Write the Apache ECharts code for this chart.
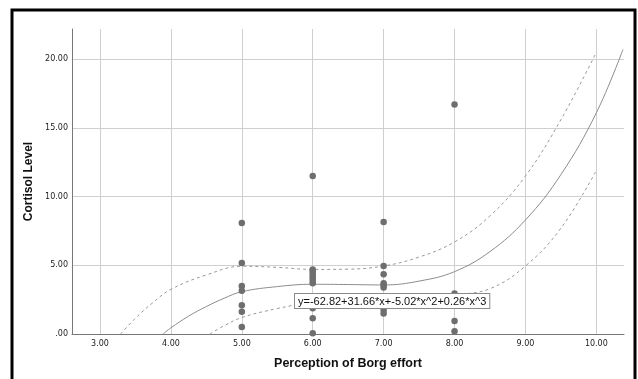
<!DOCTYPE html>
<html>
<head>
<meta charset="utf-8">
<script src="https://cdn.jsdelivr.net/npm/echarts@6/dist/echarts.min.js"></script>
<style>html,body{margin:0;padding:0;background:#fff}#c{width:638px;height:379px}</style>
</head>
<body>
<div id="c"></div>
<script>
// Scatter data: Borg effort vs cortisol
const borgX = [5,5,5,5,5,5,5, 6,6,6,6,6,6,6,6,6,6,6, 7,7,7,7,7,7,7,7, 8,8,8,8];
const cortisol = [8.08,5.17,3.50,3.15,2.09,1.62,0.51, 11.5,4.70,4.55,4.40,4.22,4.05,3.85,3.70,1.87,1.14,0.05, 8.16,4.95,4.35,3.70,3.55,3.38,1.75,1.50, 16.7,2.95,0.95,0.20];

// Fitted cubic curve
const fitX = [3.89, 4.0, 4.25, 4.5, 4.75, 5.0, 5.5, 6.0, 6.5, 7.0, 7.5, 8.0, 8.5, 9.0, 9.5, 10.0, 10.375];
const fitY = [0, 0.45, 1.3, 2.0, 2.6, 3.08, 3.45, 3.62, 3.6, 3.57, 3.85, 4.54, 6.0, 8.3, 11.6, 16.1, 20.7];

// Upper confidence band
const upX = [3.29, 3.5, 3.75, 4.0, 4.5, 5.0, 5.5, 6.0, 6.5, 7.0, 7.5, 8.0, 8.5, 9.0, 9.5, 10.0];
const upY = [0, 1.15, 2.3, 3.25, 4.3, 4.93, 4.85, 4.7, 4.72, 4.95, 5.6, 6.7, 8.6, 11.5, 15.6, 20.5];

// Lower confidence band
const loX = [4.55, 4.75, 5.0, 5.5, 6.0, 6.5, 7.0, 7.5, 8.0, 8.5, 9.0, 9.5, 10.0];
const loY = [0, 0.6, 1.2, 1.85, 2.3, 2.45, 2.5, 2.6, 2.85, 3.3, 4.95, 7.7, 11.9];

// Axis ticks
const xTicks = [3, 4, 5, 6, 7, 8, 9, 10];
const yTicks = [0, 5, 10, 15, 20];
const eqText = 'y=-62.82+31.66*x+-5.02*x^2+0.26*x^3';

const pair = (xs, ys) => xs.map((x, i) => [x, ys[i]]);
const fmt = v => v === 0 ? '.00' : v.toFixed(2);

const chart = echarts.init(document.getElementById('c'));
chart.setOption({
  animation: false,
  backgroundColor: '#fff',
  grid: { left: 72, top: 29, right: 14, bottom: 45 },
  xAxis: {
    type: 'value', min: 2.605, max: 10.39,
    name: 'Perception of Borg effort', nameLocation: 'middle', nameGap: 23,
    nameTextStyle: { fontFamily: 'Liberation Sans', fontWeight: 'bold', fontSize: 12.5, color: '#111' },
    axisLine: { show: true, lineStyle: { color: '#777', width: 1 } },
    axisTick: { show: false, customValues: xTicks },
    axisLabel: { customValues: xTicks, formatter: fmt, margin: 6, fontFamily: 'DejaVu Sans', fontSize: 8, color: '#222' },
    splitLine: { show: true, lineStyle: { color: '#cfcfcf', width: 1 } }
  },
  yAxis: {
    type: 'value', min: 0, max: 22.2,
    name: 'Cortisol Level', nameLocation: 'middle', nameGap: 36,
    nameTextStyle: { fontFamily: 'Liberation Sans', fontWeight: 'bold', fontSize: 12, color: '#111' },
    axisLine: { show: true, lineStyle: { color: '#777', width: 1 } },
    axisTick: { show: false, customValues: yTicks },
    axisLabel: { customValues: yTicks, formatter: fmt, margin: 4, fontFamily: 'DejaVu Sans', fontSize: 8, color: '#222' },
    splitLine: { show: true, lineStyle: { color: '#cfcfcf', width: 1 } }
  },
  series: [
    { type: 'line', data: pair(upX, upY), smooth: 0.4, showSymbol: false, silent: true,
      lineStyle: { color: '#999', width: 1, type: [3, 3] }, z: 2 },
    { type: 'line', data: pair(loX, loY), smooth: 0.4, showSymbol: false, silent: true,
      lineStyle: { color: '#999', width: 1, type: [3, 3] }, z: 2 },
    { type: 'line', data: pair(fitX, fitY), smooth: 0.4, showSymbol: false, silent: true,
      lineStyle: { color: '#8c8c8c', width: 1 }, z: 2 },
    { type: 'scatter', data: pair(borgX, cortisol), symbolSize: 6.5,
      itemStyle: { color: '#6e6e6e', opacity: 1 }, z: 3 }
  ],
  graphic: [
    { type: 'text', left: 294, top: 293, z: 10,
      style: { text: eqText, font: '11px "Liberation Sans"', fill: '#111',
        backgroundColor: '#fff', borderColor: '#8a8a8a', borderWidth: 1, padding: [2, 3, 1, 3] } },
    { type: 'rect', shape: { x: 12, y: 10, width: 623, height: 380 }, z: 20, silent: true,
      style: { fill: 'none', stroke: '#000', lineWidth: 3 } }
  ]
});
</script>
</body>
</html>
